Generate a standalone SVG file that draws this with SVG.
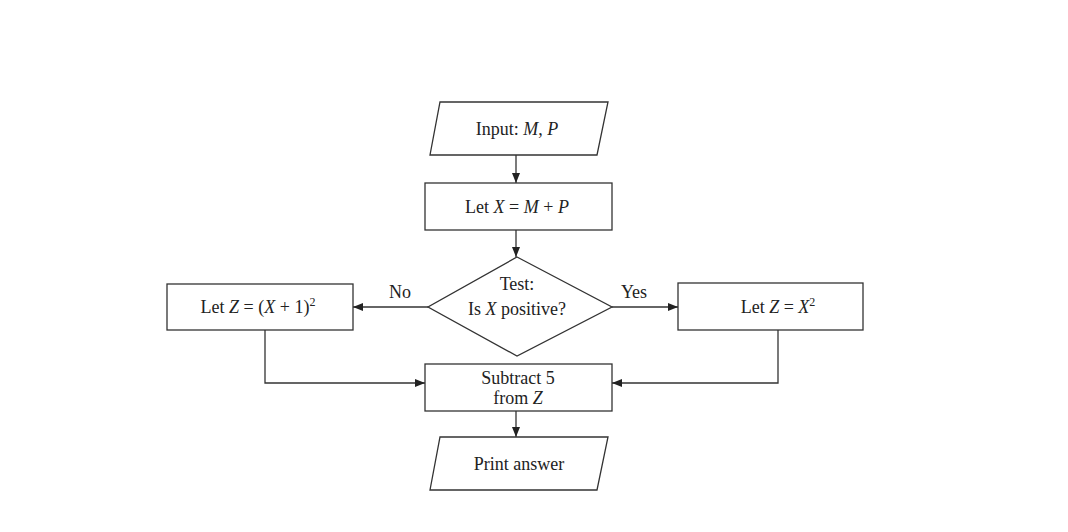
<svg xmlns="http://www.w3.org/2000/svg" width="1068" height="532" viewBox="0 0 1068 532">
<style>
.s{fill:#fff;stroke:#333;stroke-width:1.3}
.c{fill:none;stroke:#333;stroke-width:1.3}
text{font-family:"Liberation Serif",serif;font-size:18px;fill:#222;text-anchor:middle}
</style>
<defs><marker id="a" markerWidth="10" markerHeight="8" refX="10" refY="4" orient="auto" markerUnits="userSpaceOnUse"><path d="M0,0L10,4L0,8z" fill="#222"/></marker></defs>
<rect width="1068" height="532" fill="#fff"/>
<g id="connectors">
<path class="c" d="M516,155V183" marker-end="url(#a)"/>
<path class="c" d="M516,230V257" marker-end="url(#a)"/>
<path class="c" d="M428,307H353" marker-end="url(#a)"/>
<path class="c" d="M612,307H678" marker-end="url(#a)"/>
<path class="c" d="M265,330V383H425" marker-end="url(#a)"/>
<path class="c" d="M778,330V383H612" marker-end="url(#a)"/>
<path class="c" d="M516,411V437" marker-end="url(#a)"/>
<text x="400" y="298">No</text><text x="634" y="298">Yes</text>
</g>
<g id="input"><polygon class="s" points="440,102 608,102 597,155 430,155"/><text x="517" y="135">Input:  <tspan font-style="italic">M</tspan>, <tspan font-style="italic">P</tspan></text></g>
<g id="letx"><rect class="s" x="425" y="183" width="187" height="47"/><text x="517" y="213">Let <tspan font-style="italic">X</tspan> = <tspan font-style="italic">M</tspan> + <tspan font-style="italic">P</tspan></text></g>
<g id="test"><polygon class="s" points="517,257 612,307 517,356 428,307"/><text x="517" y="290">Test:</text><text x="517" y="315">Is <tspan font-style="italic">X</tspan> positive?</text></g>
<g id="leftz"><rect class="s" x="167" y="284" width="186" height="46"/><text x="258" y="313">Let <tspan font-style="italic">Z</tspan> = (<tspan font-style="italic">X</tspan> + 1)<tspan font-size="12" dy="-7">2</tspan></text></g>
<g id="rightz"><rect class="s" x="678" y="283" width="185" height="47"/><text x="778" y="313">Let <tspan font-style="italic">Z</tspan> = <tspan font-style="italic">X</tspan><tspan font-size="12" dy="-7">2</tspan></text></g>
<g id="subtract"><rect class="s" x="425" y="364" width="187" height="47"/><text x="518" y="384">Subtract 5</text><text x="518" y="404">from <tspan font-style="italic">Z</tspan></text></g>
<g id="print"><polygon class="s" points="440,437 608,437 597,490 430,490"/><text x="519" y="470">Print answer</text></g>
</svg>
